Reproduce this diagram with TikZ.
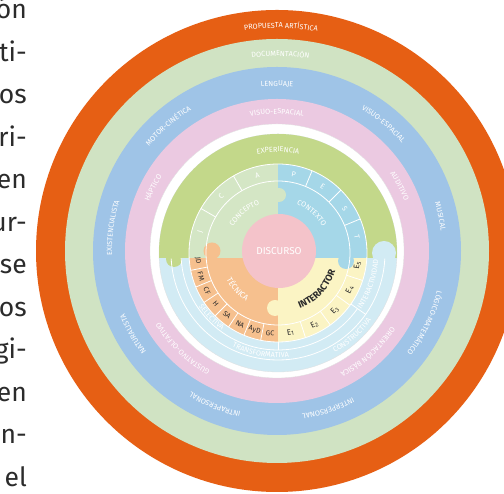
\documentclass[tikz,border=0pt]{standalone}
\usepackage{fontspec}
\setmainfont{Fira Sans}
\usetikzlibrary{decorations.text}

\definecolor{ringOrange}{HTML}{E65F14}
\definecolor{ringGreen}{HTML}{D0E3C3}
\definecolor{ringBlue}{HTML}{9FC4E7}
\definecolor{ringPink}{HTML}{EBC9E1}
\definecolor{expGreen}{HTML}{C3D88A}
\definecolor{concGreen}{HTML}{D4E6C5}
\definecolor{ctxBlue}{HTML}{A5D7E8}
\definecolor{lowBlue}{HTML}{D2EBF4}
\definecolor{discPink}{HTML}{F4C3CA}
\definecolor{tecOrange}{HTML}{F6C08E}
\definecolor{intYellow}{HTML}{FBF4C4}
\definecolor{inkDark}{HTML}{2B2B2B}

\newcommand\lblfont{\fontsize{7.3}{8}\selectfont}
\newcommand\smallfont{\fontsize{7}{8}\selectfont}

% text following an arc clockwise (tops outward)
\newcommand\cwlabel[5][white]{%
  \path[decorate,decoration={text along path,text align=center,text color=#1,
    text={|\lblfont|#5}}]
    (#3+#4:#2) arc[start angle=#3+#4,end angle=#3-#4,radius=#2];}
% text following an arc counter-clockwise (tops inward)
\newcommand\ccwlabel[5][white]{%
  \path[decorate,decoration={text along path,text align=center,text color=#1,
    text={|\lblfont|#5}}]
    (#3-#4:#2) arc[start angle=#3-#4,end angle=#3+#4,radius=#2];}

\tikzset{
  bodytext/.style={font=\fontsize{26.5}{30}\selectfont, text=inkDark, inner sep=0pt},
  cellline/.style={draw=white, line width=0.8pt},
  celltext/.style={font=\smallfont, text=inkDark, inner sep=0pt},
  cellletter/.style={font=\lblfont, text=white, inner sep=0pt},
}

\begin{document}
\begin{tikzpicture}[x=1pt,y=1pt]
\useasboundingbox (0,0) rectangle (504,494);
\fill[white] (0,0) rectangle (504,494);

% column of running text at the left edge
\foreach \w [count=\k from 0] in {ón,ti-,os,ri-,en,ur-,se,os,gi-,en,en-,el}
  \node[bodytext, anchor=base east] (line\k) at (27,475-42.5*\k) {\w};

% outer rings
\begin{scope}[shift={(277,243)}]
  \fill[ringOrange] (0,0) circle (241);
  \fill[ringGreen] (0,0) circle (212);
  \fill[ringBlue] (0,0) circle (184);
  \fill[ringPink] (0,0) circle (152);
  \fill[white] (0,0) circle (127);
  \draw[black!12, line width=0.3pt] (0,0) circle (127);

  \cwlabel{223}{89}{30}{PROPUESTA ARTÍSTICA}
  \cwlabel{195}{89}{30}{DOCUMENTACIÓN}

  \cwlabel{165}{90}{30}{LENGUAJE}
  \cwlabel{165}{50}{30}{VISUO-ESPACIAL}
  \cwlabel{165}{12}{30}{MUSICAL}
  \cwlabel{165}{-26}{30}{LÓGICO-MATEMÁTICO}
  \cwlabel{165}{-72}{30}{INTERPERSONAL}
  \cwlabel{165}{-112}{30}{INTRAPERSONAL}
  \cwlabel{165}{-150}{30}{NATURALISTA}
  \cwlabel{165}{172}{30}{EXISTENCIALISTA}
  \cwlabel{165}{131}{30}{MOTOR-CINÉTICA}

  \cwlabel{137}{90}{35}{VISUO-ESPACIAL}
  \cwlabel{137}{28}{35}{AUDITIVO}
  \cwlabel{137}{-48}{35}{ORIENTACIÓN BÁSICA}
  \cwlabel{137}{-134}{35}{GUSTATIVO-OLFATIVO}
  \cwlabel{137}{153}{35}{HÁPTICO}
\end{scope}

% inner puzzle disc
\begin{scope}[shift={(278,241)}]
  \fill[lowBlue] (0,0) circle (119);
  \draw[black!12, line width=0.3pt] (0,0) circle (119);
  \begin{scope}
    \clip (0,0) circle (119);
    \fill[expGreen] (-120,-5) rectangle (120,120);
    \fill[expGreen] (-104,-6) circle (8);
    \fill[lowBlue] (106,0) circle (12);
    \fill[lowBlue] (100,-8) rectangle (112,0);
  \end{scope}

  % lower bands of the interactivity ring
  \draw[cellline] (-35:97) arc[start angle=-35,end angle=-177,radius=97];
  \draw[cellline] (-3:107) arc[start angle=-3,end angle=-177,radius=107];
  \draw[cellline] (-90:89) -- (-90:97);
  \draw[cellline] (-35:89) -- (-35:107);

  % four quadrants
  \begin{scope}
    \clip (0,0) circle (89);
    \fill[concGreen] (-90,-5) rectangle (0,90);
    \fill[ctxBlue] (0,-5) rectangle (90,90);
    \fill[tecOrange] (-90,-5) rectangle (0,-90);
    \fill[intYellow] (0,-5) rectangle (90,-90);
  \end{scope}
  % interlocking tabs
  \fill[concGreen] (1,58) circle (7);
  \fill[tecOrange] (-66,2) circle (8.5);
  \fill[tecOrange] (-71,-6) rectangle (-61,2);
  \fill[ctxBlue] (68,-8) circle (8);
  \fill[ctxBlue] (63,-8) rectangle (73,-4);
  \fill[intYellow] (-3,-55) circle (8);

  % cell rings
  \draw[cellline] (0,0) circle (72);
  \draw[cellline] (0,0) circle (89);
  \foreach \a in {120,150,67.5,45,22.5} \draw[cellline] (\a:72) -- (\a:89);
  \foreach \k in {1,...,7} \draw[cellline] (180+11.25*\k:72) -- (180+11.25*\k:89);
  \foreach \k in {1,...,4} \draw[cellline] (270+18*\k:72) -- (270+18*\k:89);

  \foreach \t/\a in {J/165,C/135,A/105,P/78.75,E/56.25,S/33.75,T/11.25}
    \node[cellletter, rotate=\a-90] (cell\t) at (\a:80.5) {\t};
  \foreach \t [count=\k from 0] in {JD,FM,CF,H,SA,NA,AyD,GC}
    \node[celltext, rotate=185.6+11.25*\k+90] (tec\k) at (185.6+11.25*\k:80.5) {\t};
  \foreach \k in {1,...,5}
    \node[celltext, font=\fontsize{8}{9}\selectfont, rotate=-99+18*\k+90] (int\k) at (-99+18*\k:80.5) {E\textsubscript{\k}};

  % centre
  \fill[discPink] (1,2) circle (37);
  \node[font=\fontsize{10}{11}\selectfont, text=white] (disc) at (1,2) {DISCURSO};

  \cwlabel{101}{90}{40}{EXPERIENCIA}
  \cwlabel{52}{130}{50}{CONCEPTO}
  \cwlabel{52}{50}{50}{CONTEXTO}
  \ccwlabel{58}{-138}{50}{|\fontsize{8}{9}\selectfont|TÉCNICA}
  \ccwlabel[inkDark]{60}{-43}{50}{|\bfseries\fontsize{9.5}{10}\selectfont|INTERACTOR}
  \ccwlabel{95.5}{-136}{40}{SELECTIVA}
  \ccwlabel{104.5}{-100}{40}{TRANSFORMATIVA}
  \ccwlabel{115}{-48}{35}{CONSTRUCTIVA}
  \ccwlabel{100.5}{-19}{35}{INTERACTIVIDAD}
\end{scope}
\end{tikzpicture}
\end{document}
